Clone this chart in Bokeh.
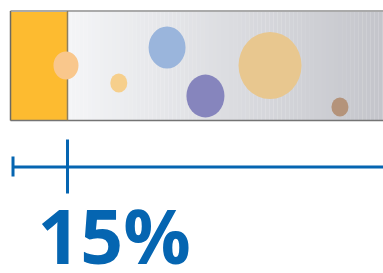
from bokeh.plotting import figure
from bokeh.models import Range1d
from bokeh.embed import file_html
from bokeh.resources import INLINE
from bokeh.core.properties import value

# ---- data ----
share_value = 15          # percent highlighted
share_label = "15%"
bubble_x = [14.6, 28.5, 41.2, 51.3, 68.3, 86.7]     # percent position across the box
bubble_y = [65, 82.5, 47, 95.5, 65, 106.5]          # vertical position (px from top)
bubble_w = [25, 17, 37, 38, 63, 17]
bubble_h = [28, 19, 42, 43, 67, 19]
bubble_colors = ["#f9c78c", "#f6cf8c", "#9ab5dc", "#8685bd", "#e8c78f", "#b4937a"]

W, H = 383, 273
PX = 3.8  # px per percent
x0 = -10 / PX
p = figure(width=W, height=H, output_backend="svg", toolbar_location=None,
           x_range=Range1d(x0, x0 + W / PX), y_range=Range1d(H, 0),
           min_border=0, outline_line_color=None)
p.axis.visible = False
p.grid.visible = False
p.background_fill_color = "white"
p.border_fill_color = "white"

box_top, box_bot = 10.5, 120

# gradient background
n = 80
left_c = (0xf4, 0xf5, 0xf7)
right_c = (0xc3, 0xc4, 0xca)
lefts, rights, cols = [], [], []
for i in range(n):
    a = share_value + (100 - share_value) * i / n
    b = share_value + (100 - share_value) * (i + 1) / n
    t = i / (n - 1)
    c = tuple(int(round(left_c[k] + (right_c[k] - left_c[k]) * t)) for k in range(3))
    lefts.append(a); rights.append(b + 0.05); cols.append("#%02x%02x%02x" % c)
p.quad(left=lefts, right=rights, top=box_top, bottom=box_bot, fill_color=cols, line_color=None)

# highlighted share
p.quad(left=[0], right=[share_value], top=box_top, bottom=box_bot,
       fill_color="#fdbb30", line_color=None)

# borders
p.segment(x0=[0], y0=[box_top], x1=[100], y1=[box_top], line_color="#aaaaaa", line_width=2)
p.segment(x0=[0], y0=[box_bot], x1=[100], y1=[box_bot], line_color="#747474", line_width=1.5)
p.segment(x0=[0], y0=[box_top], x1=[0], y1=[box_bot], line_color="#6e6a60", line_width=1.5)
p.segment(x0=[share_value], y0=[box_top], x1=[share_value], y1=[box_bot],
          line_color="#8d7f5f", line_width=1.5)

# bubbles
p.ellipse(x=bubble_x, y=bubble_y, width=bubble_w, height=bubble_h,
          width_units="screen", height_units="screen",
          fill_color=bubble_colors, line_color=None)

# timeline
blue = "#0565b1"
tl_start = 0.66
line_y = 166.5
p.segment(x0=[tl_start], y0=[line_y], x1=[102], y1=[line_y], line_color=blue, line_width=3)
p.segment(x0=[tl_start], y0=[156], x1=[tl_start], y1=[176], line_color=blue, line_width=3)
p.segment(x0=[share_value], y0=[139], x1=[share_value], y1=[193], line_color=blue, line_width=3)

# label
p.text(x=[7.1], y=[234.5], text=[share_label], text_color=blue,
       text_font=value("Open Sans"), text_font_style="bold", text_font_size="75px",
       text_baseline="middle", text_align="left")

open("out.html", "w").write(file_html(p, INLINE))
